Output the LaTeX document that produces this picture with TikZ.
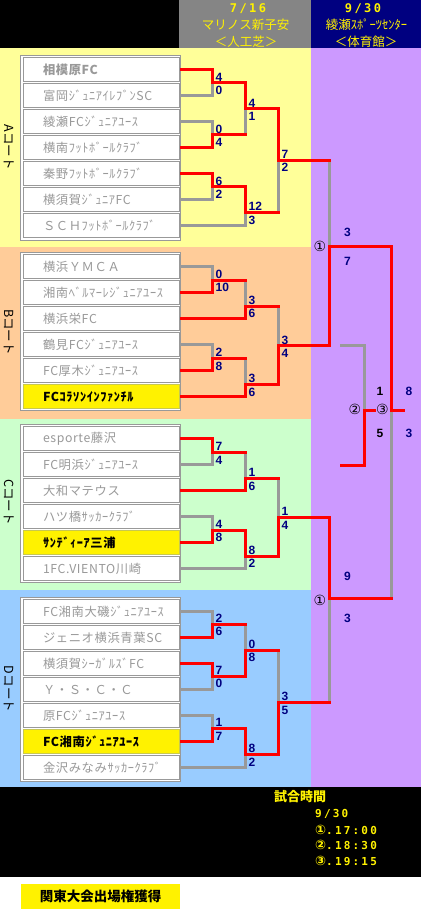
\documentclass[tikz,border=0pt]{standalone}
\usepackage{fontspec}
\usetikzlibrary{calc}
\newfontfamily\jp{Noto Sans CJK JP}
\newfontfamily\jpt[LetterSpace=5]{Noto Sans CJK JP}
\newfontfamily\numf{Liberation Sans}
\newfontfamily\circfont{DejaVu Sans}
\newfontfamily\monof[LetterSpace=20]{DejaVu Sans Mono}
\definecolor{secA}{HTML}{FFFF99}
\definecolor{secB}{HTML}{FFCC99}
\definecolor{secC}{HTML}{CCFFCC}
\definecolor{secD}{HTML}{99CCFF}
\definecolor{purp}{HTML}{CC99FF}
\definecolor{hdgray}{HTML}{858585}
\definecolor{navyc}{HTML}{000080}
\definecolor{lgray}{HTML}{999999}
\definecolor{hlborder}{HTML}{C8C850}
\definecolor{redc}{HTML}{FF0000}
\newcommand\scpair[3]{\node[sct] (#1t) at (#1) {#2};\node[scb] (#1b) at (#1) {#3};}
\begin{document}
\begin{tikzpicture}[x=1pt,y=-1pt,
  teamcell/.style={draw=lgray, fill=white, line width=1pt, minimum height=24pt,
    text width=116pt, inner xsep=20pt, inner ysep=0pt, align=left, anchor=west,
    font=\jpt\fontsize{12.3}{14}\selectfont, text=lgray},
  hl/.style={teamcell, fill=yellow, draw=hlborder, text=black,
    font=\jpt\bfseries\fontsize{12.3}{14}\selectfont},
  frame/.style={draw=lgray, fill=white, line width=1pt},
  win/.style={draw=redc, line width=3pt, line cap=rect},
  lose/.style={draw=lgray, line width=3pt, line cap=rect},
  fromteam/.style={shorten <=2pt},
  score/.style={font=\numf\bfseries\fontsize{12}{12}\selectfont, text=navyc, inner sep=0pt},
  sct/.style={score, anchor=base west, xshift=3pt, yshift=1.5pt},
  scb/.style={score, anchor=base west, xshift=3pt, yshift=-11.8pt},
  fscore/.style={score, anchor=center},
  circ/.style={font=\circfont\fontsize{14}{14}\selectfont, inner sep=0pt, text=black},
  seclabel/.style={rotate=-90, font=\jp\fontsize{12.5}{14}\selectfont, text=black, inner sep=0pt},
  hdtext/.style={font=\jp\fontsize{12.5}{14}\selectfont, text=yellow, inner sep=0pt},
  hddate/.style={font=\monof\bfseries\fontsize{12}{12}\selectfont, text=yellow, inner sep=0pt},
  fttime/.style={font=\monof\bfseries\fontsize{11}{11}\selectfont, text=yellow, inner sep=0pt, anchor=base west}
]
\useasboundingbox (0,0) rectangle (421,910);
% backgrounds
\fill[black] (0,0) rectangle (179,48);
\fill[hdgray] (179,0) rectangle (311,48);
\fill[navyc] (311,0) rectangle (421,48);
\fill[secA] (0,48) rectangle (311,246.5);
\fill[secB] (0,246.5) rectangle (311,419);
\fill[secC] (0,419) rectangle (311,590);
\fill[secD] (0,590) rectangle (311,787);
\fill[purp] (311,48) rectangle (421,787);
\fill[black] (0,787) rectangle (421,877);
\fill[white] (0,877) rectangle (421,910);

% header
\node[hddate] (h1) at (248,8.3) {7/16};
\node[hdtext] (h2) at (245.5,24.7) {マリノス新子安};
\node[hdtext] (h3) at (246,41.3) {＜人工芝＞};
\node[hddate] (h4) at (363,8.3) {9/30};
\node[hdtext] (h5) at (366.5,24.7) {綾瀬ｽﾎﾟｰﾂｾﾝﾀｰ};
\node[hdtext] (h6) at (366,41.3) {＜体育館＞};

% section labels
\node[seclabel] (labA) at (9,147) {Aコート};
\node[seclabel] (labB) at (9,332) {Bコート};
\node[seclabel] (labC) at (9,502) {Cコート};
\node[seclabel] (labD) at (9,689) {Dコート};

% frames
\draw[frame] (20.5,55.5) rectangle (180.5,240.5);
\draw[frame] (20.5,252.5) rectangle (180.5,410.5);
\draw[frame] (20.5,424.5) rectangle (180.5,582.5);
\draw[frame] (20.5,597.5) rectangle (180.5,781.5);

% teams A
\node[teamcell, font=\jpt\bfseries\fontsize{12.3}{14}\selectfont] (a1) at (22.5,69.5) {相模原FC};
\node[teamcell] (a2) at (22.5,95.5) {富岡ｼﾞｭﾆｱｲﾚﾌﾞﾝSC};
\node[teamcell] (a3) at (22.5,121.5) {綾瀬FCｼﾞｭﾆｱﾕｰｽ};
\node[teamcell] (a4) at (22.5,147.5) {横南ﾌｯﾄﾎﾞｰﾙｸﾗﾌﾞ};
\node[teamcell] (a5) at (22.5,173.5) {秦野ﾌｯﾄﾎﾞｰﾙｸﾗﾌﾞ};
\node[teamcell] (a6) at (22.5,199.5) {横須賀ｼﾞｭﾆｱFC};
\node[teamcell] (a7) at (22.5,225.5) {ＳＣＨﾌｯﾄﾎﾞｰﾙｸﾗﾌﾞ};
% teams B
\node[teamcell] (b1) at (22.5,266.5) {横浜ＹＭＣＡ};
\node[teamcell] (b2) at (22.5,292.5) {湘南ﾍﾞﾙﾏｰﾚｼﾞｭﾆｱﾕｰｽ};
\node[teamcell] (b3) at (22.5,318.5) {横浜栄FC};
\node[teamcell] (b4) at (22.5,344.5) {鶴見FCｼﾞｭﾆｱﾕｰｽ};
\node[teamcell] (b5) at (22.5,370.5) {FC厚木ｼﾞｭﾆｱﾕｰｽ};
\node[hl] (b6) at (22.5,396.5) {FCｺﾗｿﾝｲﾝﾌｧﾝﾁﾙ};
% teams C
\node[teamcell] (c1) at (22.5,438.5) {esporte藤沢};
\node[teamcell] (c2) at (22.5,464.5) {FC明浜ｼﾞｭﾆｱﾕｰｽ};
\node[teamcell] (c3) at (22.5,490.5) {大和マテウス};
\node[teamcell] (c4) at (22.5,516.5) {ハツ橋ｻｯｶｰｸﾗﾌﾞ};
\node[hl] (c5) at (22.5,542.5) {ｻﾝﾃﾞｨｰｱ三浦};
\node[teamcell] (c6) at (22.5,568.5) {1FC.VIENTO川崎};
% teams D
\node[teamcell] (d1) at (22.5,611.5) {FC湘南大磯ｼﾞｭﾆｱﾕｰｽ};
\node[teamcell] (d2) at (22.5,637.5) {ジェニオ横浜青葉SC};
\node[teamcell] (d3) at (22.5,663.5) {横須賀ｼｰｶﾞﾙｽﾞFC};
\node[teamcell] (d4) at (22.5,689.5) {Ｙ・Ｓ・Ｃ・Ｃ};
\node[teamcell] (d5) at (22.5,715.5) {原FCｼﾞｭﾆｱﾕｰｽ};
\node[hl] (d6) at (22.5,741.5) {FC湘南ｼﾞｭﾆｱﾕｰｽ};
\node[teamcell] (d7) at (22.5,767.5) {金沢みなみｻｯｶｰｸﾗﾌﾞ};

% match points
\coordinate (mA1) at (212.5,82.5);
\coordinate (mA2) at (212.5,134.5);
\coordinate (mA3) at (245.5,108.5);
\coordinate (mA4) at (212.5,186.5);
\coordinate (mA5) at (245.5,212.3);
\coordinate (mA6) at (278.5,160);
\coordinate (mB1) at (212.5,280);
\coordinate (mB2) at (245.5,306);
\coordinate (mB3) at (212.5,358.3);
\coordinate (mB4) at (245.5,384.3);
\coordinate (mB5) at (278.5,345.5);
\coordinate (mC1) at (212.5,452.3);
\coordinate (mC2) at (245.5,478.3);
\coordinate (mC3) at (212.5,530);
\coordinate (mC4) at (245.5,556);
\coordinate (mC5) at (278.5,517.3);
\coordinate (mD1) at (212.5,624);
\coordinate (mD2) at (212.5,676);
\coordinate (mD3) at (245.5,650);
\coordinate (mD4) at (212.5,728.3);
\coordinate (mD5) at (245.5,754.3);
\coordinate (mD6) at (278.5,702.3);
\coordinate (s1) at (329.5,246.5);
\coordinate (s2) at (329.5,598);
\coordinate (fin) at (391.5,410.5);
\coordinate (thd) at (364.5,410.5);
\coordinate (finEnd) at (403.5,410.5);
\coordinate (thdEnd) at (374,410.5);
\coordinate (thdTop) at (341,345.5);
\coordinate (thdBot) at (341,465.5);

% losing lines (gray)
\draw[lose,fromteam] (a2.east) -| (mA1);
\draw[lose,fromteam] (a3.east) -| (mA2);
\draw[lose,fromteam] (a6.east) -| (mA4);
\draw[lose,fromteam] (a7.east) -| (mA5);
\draw[lose] (mA2 -| mA3) -- (mA3);
\draw[lose] (mA5 -| mA6) -- (mA6);
\draw[lose,fromteam] (b1.east) -| (mB1);
\draw[lose,fromteam] (b4.east) -| (mB3);
\draw[lose] (mB1 -| mB2) -- (mB2);
\draw[lose] (mB3 -| mB4) -- (mB4);
\draw[lose] (mB2 -| mB5) -- (mB5);
\draw[lose,fromteam] (c2.east) -| (mC1);
\draw[lose,fromteam] (c4.east) -| (mC3);
\draw[lose,fromteam] (c6.east) -| (mC4);
\draw[lose] (mC1 -| mC2) -- (mC2);
\draw[lose] (mC2 -| mC5) -- (mC5);
\draw[lose,fromteam] (d1.east) -| (mD1);
\draw[lose,fromteam] (d4.east) -| (mD2);
\draw[lose,fromteam] (d5.east) -| (mD4);
\draw[lose,fromteam] (d7.east) -| (mD5);
\draw[lose] (mD1 -| mD3) -- (mD3);
\draw[lose] (mD3 -| mD6) -- (mD6);
\draw[lose] (mA6 -| s1) -- (s1);
\draw[lose] (mD6 -| s2) -- (s2);
\draw[lose] (s2 -| fin) -- (fin);
\draw[lose] (thdTop) -| (thd);

% winning lines (red)
\draw[win,fromteam] (a1.east) -| (mA1);
\draw[win,fromteam] (a4.east) -| (mA2);
\draw[win,fromteam] (a5.east) -| (mA4);
\draw[win] (mA1) -| (mA3);
\draw[win] (mA2) -- (mA2 -| mA3);
\draw[win] (mA4) -| (mA5);
\draw[win] (mA3) -| (mA6);
\draw[win] (mA5) -- (mA5 -| mA6);
\draw[win,fromteam] (b2.east) -| (mB1);
\draw[win,fromteam] (b3.east) -| (mB2);
\draw[win,fromteam] (b5.east) -| (mB3);
\draw[win,fromteam] (b6.east) -| (mB4);
\draw[win] (mB1) -- (mB1 -| mB2);
\draw[win] (mB3) -- (mB3 -| mB4);
\draw[win] (mB2) -- (mB2 -| mB5);
\draw[win] (mB4) -| (mB5);
\draw[win,fromteam] (c1.east) -| (mC1);
\draw[win,fromteam] (c3.east) -| (mC2);
\draw[win,fromteam] (c5.east) -| (mC3);
\draw[win] (mC1) -- (mC1 -| mC2);
\draw[win] (mC3) -| (mC4);
\draw[win] (mC2) -- (mC2 -| mC5);
\draw[win] (mC4) -| (mC5);
\draw[win,fromteam] (d2.east) -| (mD1);
\draw[win,fromteam] (d3.east) -| (mD2);
\draw[win,fromteam] (d6.east) -| (mD4);
\draw[win] (mD1) -- (mD1 -| mD3);
\draw[win] (mD2) -| (mD3);
\draw[win] (mD4) -| (mD5);
\draw[win] (mD3) -- (mD3 -| mD6);
\draw[win] (mD5) -| (mD6);
\draw[win] (mA6) -- (mA6 -| s1);
\draw[win] (mB5) -| (s1);
\draw[win] (mC5) -| (s2);
\draw[win] (mD6) -- (mD6 -| s2);
\draw[win] (s1) -| (fin);
\draw[win] (s2) -- (s2 -| fin);
\draw[win] (fin) -- (finEnd);
\draw[win] (thdBot) -| (thd);
\draw[win] (thd) -- (thdEnd);

% scores
\scpair{mA1}{4}{0}
\scpair{mA2}{0}{4}
\scpair{mA3}{4}{1}
\scpair{mA4}{6}{2}
\scpair{mA5}{12}{3}
\scpair{mA6}{7}{2}
\scpair{mB1}{0}{10}
\scpair{mB2}{3}{6}
\scpair{mB3}{2}{8}
\scpair{mB4}{3}{6}
\scpair{mB5}{3}{4}
\scpair{mC1}{7}{4}
\scpair{mC2}{1}{6}
\scpair{mC3}{4}{8}
\scpair{mC4}{8}{2}
\scpair{mC5}{1}{4}
\scpair{mD1}{2}{6}
\scpair{mD2}{7}{0}
\scpair{mD3}{0}{8}
\scpair{mD4}{1}{7}
\scpair{mD5}{8}{2}
\scpair{mD6}{3}{5}
\node[fscore] (s1t) at (347.5,232.7) {3};
\node[fscore] (s1b) at (347.5,261.7) {7};
\node[fscore] (s2t) at (347.5,576) {9};
\node[fscore] (s2b) at (347.5,618.3) {3};
\node[fscore] (fint) at (409,391.7) {8};
\node[fscore] (finb) at (409,433.3) {3};
\node[fscore, text=black] (thdt) at (380,391.7) {1};
\node[fscore, text=black] (thdb) at (380,433.3) {5};

% circled match numbers
\node[circ] (cs1) at (320,246.5) {①};
\node[circ] (cs2) at (320,600.5) {①};
\node[circ] (cthd) at (355,409.5) {②};
\node[circ] (cfin) at (382.5,409.5) {③};

% footer
\node[font=\jp\bfseries\fontsize{13}{13}\selectfont, text=yellow, inner sep=0pt] (ft0) at (300,796.7) {試合時間};
\node[fttime] (ft1) at (315,817.7) {9/30};
\node[fttime] (ft2) at (315,834) {{\circfont\bfseries\fontsize{13}{13}\selectfont ①}.17:00};
\node[fttime] (ft3) at (315,849.3) {{\circfont\bfseries\fontsize{13}{13}\selectfont ②}.18:30};
\node[fttime] (ft4) at (315,865.3) {{\circfont\bfseries\fontsize{13}{13}\selectfont ③}.19:15};
\node[fill=yellow, minimum width=159pt, minimum height=25pt, inner sep=0pt,
  font=\jp\bfseries\fontsize{13.5}{14}\selectfont] (qual) at (100.5,896.5) {関東大会出場権獲得};
\end{tikzpicture}
\end{document}
